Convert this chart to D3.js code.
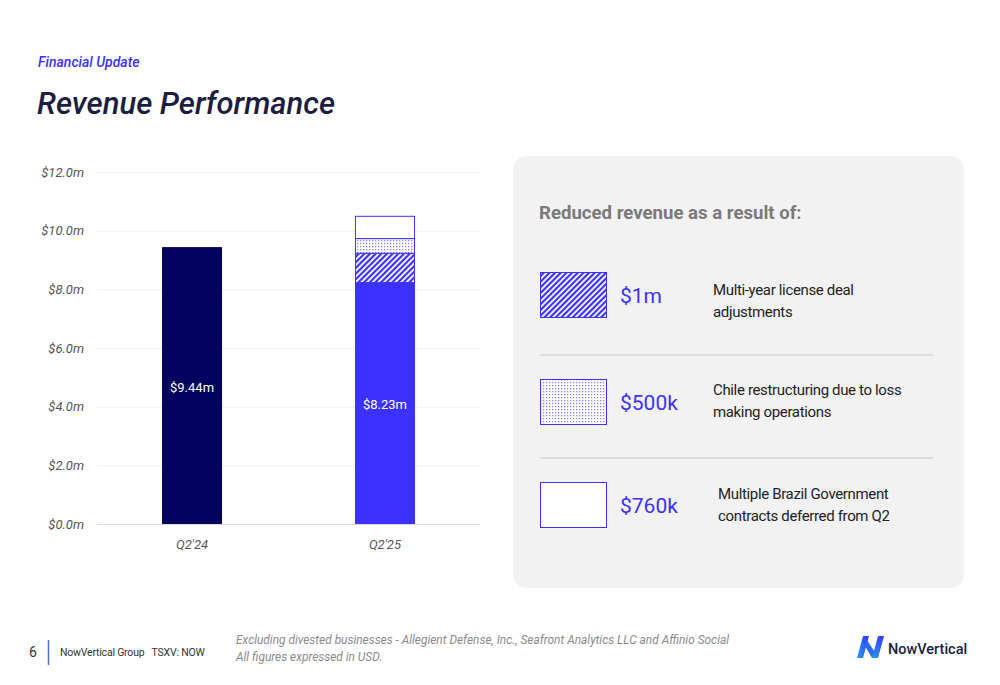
<!DOCTYPE html>
<html>
<head>
<meta charset="utf-8">
<script src="https://cdn.jsdelivr.net/npm/d3@7"></script>
<style>
  html, body { margin: 0; padding: 0; background: #fff; }
  svg { display: block; font-family: Roboto, "Liberation Sans", sans-serif; }
</style>
</head>
<body>
<svg id="slide" width="1000" height="685"></svg>
<script>
// Revenue by quarter ($m)
const categories = ["Q2'24", "Q2'25"];
const baseRevenue = [9.44, 8.23];
const baseLabels = ["$9.44m", "$8.23m"];

// Items stacked on top of Q2'25 (reduced revenue)
const adjNames = ["hatch", "dots", "open"];
const adjValues = [1.0, 0.5, 0.76];
const adjAmounts = ["$1m", "$500k", "$760k"];
const adjText = [
  ["Multi-year license deal", "adjustments"],
  ["Chile restructuring due to loss", "making operations"],
  ["Multiple Brazil Government", "contracts deferred from Q2"]
];

const yTicks = [0, 2, 4, 6, 8, 10, 12];

const NAVY = '#02025f', BLUE = '#3c32ff', INK = '#1d1d3f';

const svg = d3.select('#slide');
const defs = svg.append('defs');

// patterns
const hatch = defs.append('pattern').attr('id', 'p-hatch')
  .attr('patternUnits', 'userSpaceOnUse').attr('width', 4).attr('height', 4)
  .attr('patternTransform', 'rotate(45)');
hatch.append('rect').attr('width', 4).attr('height', 4).attr('fill', '#fff');
hatch.append('rect').attr('width', 2.2).attr('height', 4).attr('fill', BLUE);

const dots = defs.append('pattern').attr('id', 'p-dots')
  .attr('patternUnits', 'userSpaceOnUse').attr('width', 3).attr('height', 3);
dots.append('rect').attr('width', 3).attr('height', 3).attr('fill', '#fff');
dots.append('rect').attr('width', 1.3).attr('height', 1.3).attr('fill', '#8a84ff');

const fills = { hatch: 'url(#p-hatch)', dots: 'url(#p-dots)', open: '#fff' };

// header
svg.append('text').attr('x', 38).attr('y', 67)
  .attr('font-size', 14).attr('font-style', 'italic').attr('font-weight', 500)
  .attr('fill', BLUE).text('Financial Update');
svg.append('text').attr('x', 37).attr('y', 114)
  .attr('font-size', 31).attr('font-style', 'italic').attr('font-weight', 500)
  .attr('fill', INK).text('Revenue Performance');

// chart
const x = d3.scaleBand().domain(categories).range([97, 480])
  .paddingInner(0.689).paddingOuter(0.337);
const y = d3.scaleLinear().domain([0, 12]).range([524, 172]);

const g = svg.append('g');

const yAxis = g.append('g').attr('transform', 'translate(97,0)')
  .call(d3.axisLeft(y).tickValues(yTicks).tickSize(-383)
    .tickFormat(d => '$' + d.toFixed(1) + 'm').tickPadding(13));
yAxis.select('.domain').remove();
yAxis.selectAll('line').attr('stroke', d => d === 0 ? '#d9d9d9' : '#efefef');
yAxis.selectAll('text').attr('font-size', 13).attr('font-style', 'italic')
  .attr('fill', '#555').attr('font-family', 'Roboto, sans-serif');

const xAxis = g.append('g').attr('transform', 'translate(0,524)')
  .call(d3.axisBottom(x).tickSize(0).tickPadding(16));
xAxis.select('.domain').remove();
xAxis.selectAll('text').attr('font-size', 13).attr('font-style', 'italic')
  .attr('fill', '#555').attr('font-family', 'Roboto, sans-serif');

// base bars
g.selectAll('rect.base').data(categories).join('rect').attr('class', 'base')
  .attr('x', d => x(d)).attr('width', x.bandwidth())
  .attr('y', (d, i) => y(baseRevenue[i]))
  .attr('height', (d, i) => y(0) - y(baseRevenue[i]))
  .attr('fill', (d, i) => i === 0 ? NAVY : BLUE);

g.selectAll('text.val').data(categories).join('text').attr('class', 'val')
  .attr('x', d => x(d) + x.bandwidth() / 2)
  .attr('y', (d, i) => i === 0 ? 392 : 409)
  .attr('text-anchor', 'middle').attr('font-size', 13)
  .attr('fill', '#fff').text((d, i) => baseLabels[i]);

// stacked adjustments on Q2'25
let acc = baseRevenue[1];
const stack = adjValues.map((v, i) => { const s = { name: adjNames[i], y0: acc, y1: acc + v }; acc += v; return s; });
g.selectAll('rect.adj').data(stack).join('rect').attr('class', 'adj')
  .attr('x', x(categories[1]) + 0.5).attr('width', x.bandwidth() - 1)
  .attr('y', d => y(d.y1)).attr('height', d => y(d.y0) - y(d.y1))
  .attr('fill', d => fills[d.name]).attr('stroke', BLUE).attr('stroke-width', 1);

// side panel
svg.append('rect').attr('x', 513).attr('y', 156).attr('width', 451).attr('height', 432)
  .attr('rx', 14).attr('fill', '#f2f2f2');
svg.append('text').attr('x', 539).attr('y', 219)
  .attr('font-size', 18.6).attr('font-weight', 700).attr('fill', '#7a7a7a')
  .attr('font-family', 'Roboto, sans-serif').text('Reduced revenue as a result of:');

const rowY = [272, 379, 482];
const descX = [713, 713, 718];
const descY = [23, 16, 17];
const rows = svg.selectAll('g.row').data(adjNames).join('g').attr('class', 'row')
  .attr('transform', (d, i) => `translate(0,${rowY[i]})`);
rows.append('rect').attr('x', 540.5).attr('y', 0.5).attr('width', 66).attr('height', 45)
  .attr('fill', d => fills[d]).attr('stroke', BLUE).attr('stroke-width', 1);
rows.append('text').attr('x', 620).attr('y', 31)
  .attr('font-size', 21).attr('fill', BLUE).text((d, i) => adjAmounts[i]);
rows.each(function (d, i) {
  const t = d3.select(this).append('text').attr('font-size', 15).attr('fill', '#222')
    .attr('letter-spacing', -0.35);
  adjText[i].forEach((line, j) => {
    t.append('tspan').attr('x', descX[i]).attr('y', descY[i] + j * 22).text(line);
  });
});

[355, 458].forEach(yy => svg.append('line').attr('x1', 540).attr('x2', 933)
  .attr('y1', yy).attr('y2', yy).attr('stroke', '#c8c8c8').attr('stroke-width', 1.2));

// footer
svg.append('text').attr('x', 29).attr('y', 657).attr('font-size', 14).attr('fill', '#333').text('6');
svg.append('line').attr('x1', 48.5).attr('x2', 48.5).attr('y1', 640).attr('y2', 665)
  .attr('stroke', '#4a6fd0').attr('stroke-width', 1.5);
svg.append('text').attr('x', 60).attr('y', 656).attr('font-size', 10.5).attr('fill', '#333')
  .attr('letter-spacing', -0.2).attr('xml:space', 'preserve').text('NowVertical Group   TSXV: NOW');
svg.append('text').attr('x', 236).attr('y', 644).attr('font-size', 11.9).attr('font-style', 'italic')
  .attr('fill', '#8a8a8a').text('Excluding divested businesses - Allegient Defense, Inc., Seafront Analytics LLC and Affinio Social');
svg.append('text').attr('x', 236).attr('y', 661).attr('font-size', 11.9).attr('font-style', 'italic')
  .attr('fill', '#8a8a8a').text('All figures expressed in USD.');

// logo
const grad = defs.append('linearGradient').attr('id', 'lg').attr('x1', 0).attr('y1', 1).attr('x2', 1).attr('y2', 0);
grad.append('stop').attr('offset', 0).attr('stop-color', '#1da1f2');
grad.append('stop').attr('offset', 1).attr('stop-color', '#3c32ff');
const logo = svg.append('g').attr('transform', 'translate(857,636)');
logo.append('path').attr('d', 'M6,0 L12,0 L6,22 L0,22 Z').attr('fill', 'url(#lg)');
logo.append('path').attr('d', 'M10,4 L19,18 L15,22 L8,10 Z').attr('fill', '#2a6cf0');
logo.append('path').attr('d', 'M21,0 L27,0 L21,22 L15,22 Z').attr('fill', 'url(#lg)');
svg.append('text').attr('x', 888).attr('y', 654).attr('font-size', 14.5).attr('font-weight', 500)
  .attr('fill', INK).text('NowVertical');
</script>
</body>
</html>
